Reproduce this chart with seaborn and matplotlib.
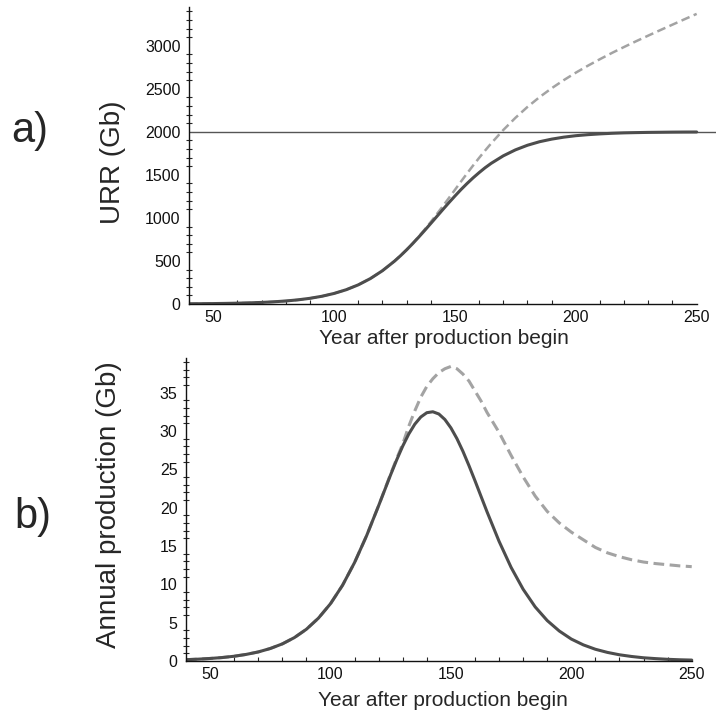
import matplotlib
matplotlib.use("Agg")
import matplotlib.pyplot as plt
import seaborn as sns
import pandas as pd
from matplotlib.ticker import MultipleLocator

# years after production begin (5-year steps, 2.5 around the peak)
years = [40, 45, 50, 55, 60, 65, 70, 75, 80, 85, 90, 95, 100, 105, 110, 115, 120,
         125, 127.5, 130, 132.5, 135, 137.5, 140, 142.5, 145, 147.5, 150, 152.5,
         155, 157.5, 160, 162.5, 165,
         170, 175, 180, 185, 190, 195, 200, 205, 210, 215, 220, 225, 230, 235, 240,
         245, 250]

# a) cumulative production (URR), Gb
urr_solid = [2.6, 3.7, 5.0, 7.0, 9.6, 13.3, 18.4, 25.4, 34.9, 48.0, 65.9, 90.0, 122.5,
             165.6, 222.1, 294.9, 386.2,
             497.6, 560.8, 628.7, 700.8, 776.4, 854.7, 935.1, 1016, 1097, 1177, 1254,
             1329, 1399, 1465, 1526, 1583, 1634,
             1721, 1790, 1844, 1885, 1915, 1938, 1955, 1967, 1976, 1983, 1988, 1991,
             1993.5, 1995, 1996.6, 1997.5, 1998]
urr_dashed = [2.6, 3.7, 5.0, 7.0, 9.6, 13.3, 18.4, 25.4, 34.9, 48.0, 65.9, 90.0, 122.5,
              165.6, 222.1, 294.9, 386.2,
              498, 562, 629, 703, 782, 866, 953, 1044, 1136, 1231, 1326, 1422, 1516,
              1608, 1697, 1783, 1866,
              2021, 2162, 2289, 2403, 2506, 2600, 2687, 2768, 2844, 2917, 2986, 3053,
              3118, 3182, 3245, 3308, 3370]
urr_limit = 2000

# b) annual production, Gb
prod_solid = [0.17, 0.24, 0.33, 0.45, 0.62, 0.86, 1.18, 1.63, 2.23, 3.05, 4.14, 5.59,
              7.47, 9.87, 12.84, 16.34, 20.26,
              24.30, 26.23, 28.02, 29.59, 30.87, 31.81, 32.37, 32.49, 32.20, 31.48,
              30.39, 28.99, 27.33, 25.47, 23.50, 21.47, 19.45,
              15.60, 12.20, 9.35, 7.05, 5.27, 3.91, 2.86, 2.10, 1.53, 1.12, 0.81, 0.59,
              0.42, 0.31, 0.22, 0.16, 0.12]
prod_dashed = [0.17, 0.24, 0.33, 0.45, 0.62, 0.86, 1.18, 1.63, 2.23, 3.05, 4.14, 5.59,
               7.47, 9.87, 12.84, 16.34, 20.26,
               24.4, 26.4, 28.3, 30.6, 32.6, 34.4, 35.8, 36.8, 37.6, 38.1, 38.4, 38.1,
               37.4, 36.5, 35.2, 33.9, 32.4,
               29.8, 26.8, 24.0, 21.5, 19.5, 18.0, 16.8, 15.8, 14.8, 14.1, 13.6, 13.2,
               12.9, 12.7, 12.55, 12.4, 12.3]

df = pd.DataFrame({"year": years, "urr_solid": urr_solid, "urr_dashed": urr_dashed,
                   "prod_solid": prod_solid, "prod_dashed": prod_dashed})

sns.set_style("white")
plt.rcParams["font.family"] = ["Liberation Sans", "DejaVu Sans"]

dark = "#4d4d4d"
light = "#a3a3a3"

fig = plt.figure(figsize=(7.17, 7.17), dpi=100)
ax1 = fig.add_axes([189/717, 1-304/717, 527/717, 297/717])
ax2 = fig.add_axes([186/717, 1-661/717, 525/717, 303/717])

# top panel
ax1.axhline(urr_limit, color="#555555", lw=1.0)
sns.lineplot(data=df, x="year", y="urr_dashed", ax=ax1, color=light, lw=1.8,
             linestyle=(0, (3.5, 1.8)))
sns.lineplot(data=df, x="year", y="urr_solid", ax=ax1, color=dark, lw=2.2)
ax1.set_ylim(0, 3450)
ax1.yaxis.set_major_locator(MultipleLocator(500))
ax1.yaxis.set_minor_locator(MultipleLocator(100))

# bottom panel
sns.lineplot(data=df, x="year", y="prod_dashed", ax=ax2, color=light, lw=2.2,
             linestyle=(0, (3.5, 1.8)))
sns.lineplot(data=df, x="year", y="prod_solid", ax=ax2, color=dark, lw=2.2)
ax2.set_ylim(0, 39.5)
ax2.yaxis.set_major_locator(MultipleLocator(5))
ax2.yaxis.set_minor_locator(MultipleLocator(1))

for ax, ylab in [(ax1, "URR (Gb)"), (ax2, "Annual production (Gb)")]:
    ax.set_xlim(40, 258)
    ax.set_xticks([50, 100, 150, 200, 250])
    ax.xaxis.set_minor_locator(MultipleLocator(10))
    for s in ["top", "right"]:
        ax.spines[s].set_visible(False)
    ax.spines["bottom"].set_bounds(40, 250)
    for s in ["left", "bottom"]:
        ax.spines[s].set_color("#111111")
        ax.spines[s].set_linewidth(1.0)
    ax.tick_params(axis="y", which="major", direction="out", length=5, width=0.9,
                   labelsize=11.5, pad=1, colors="#111111")
    ax.tick_params(axis="y", which="minor", direction="inout", length=4, width=0.8,
                   left=True)
    ax.tick_params(axis="x", which="major", direction="in", length=4, width=0.9,
                   labelsize=11.5, pad=4, colors="#111111")
    ax.tick_params(axis="x", which="minor", direction="in", length=3, width=0.8,
                   bottom=True)
    ax.set_xlabel("Year after production begin", fontsize=15)
    ax.set_ylabel(ylab, fontsize=20)
    ax.grid(False)

ax1.xaxis.set_label_coords(0.483, -0.085)
ax2.xaxis.set_label_coords(0.49, -0.1)
ax1.yaxis.set_label_coords(-0.12, 0.478)
ax2.yaxis.set_label_coords(-0.122, 0.515)

fig.text(30/717, 1-131/717, "a)", fontsize=30, ha="center", va="center")
fig.text(33/717, 1-517/717, "b)", fontsize=30, ha="center", va="center")

fig.savefig("out.png", dpi=100, facecolor="white")
